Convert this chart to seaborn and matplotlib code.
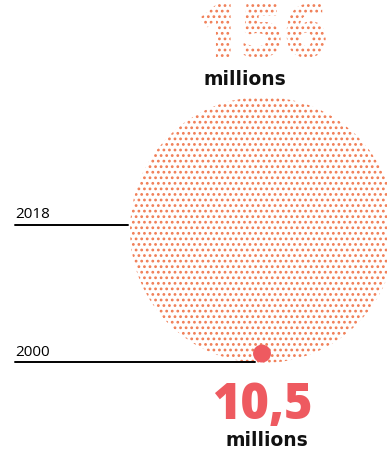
import matplotlib
matplotlib.use("Agg")
import matplotlib.pyplot as plt
import matplotlib.patheffects as pe
from matplotlib.patches import Circle
import seaborn as sns

YEARS = ["2018", "2000"]
VALUES = [156, 10.5]
VALUE_LABELS = ["156", "10,5"]
UNIT = "millions"

DOT_COLOR = "#f07d55"
RED = "#ee5a60"

sns.set_theme(style="white")
plt.rcParams["font.family"] = ["Open Sans", "DejaVu Sans"]
plt.rcParams["hatch.linewidth"] = 1.2

W, H = 387, 451
fig = plt.figure(figsize=(W / 100, H / 100), dpi=100)
ax = fig.add_axes([0, 0, 1, 1])
ax.set_xlim(0, W)
ax.set_ylim(H, 0)
ax.set_axis_off()

# circles: radius proportional to value, bottoms aligned
scale = 133 / max(VALUES)
cx, base = 263, 363
radii = [v * scale for v in VALUES]

big = Circle((cx, base - radii[0]), radii[0], facecolor="none",
             edgecolor=DOT_COLOR, linewidth=0, hatch="...")
ax.add_patch(big)

# leader lines
ax.plot([15, cx - radii[0] - 2], [225, 225], color="black", lw=1.4)
ax.plot([15, cx - 8], [362, 362], color="black", lw=1.4)
ax.text(15, 218, YEARS[0], fontsize=11, color="black")
ax.text(15, 356, YEARS[1], fontsize=11, color="black")

small = Circle((cx - 1, base - radii[1] - 0.5), radii[1], facecolor=RED,
               edgecolor="none", linewidth=0)
ax.add_patch(small)

# top value, dotted
t = ax.text(262, 57, VALUE_LABELS[0], fontsize=54, fontweight=800,
            ha="center", va="baseline")
t.set_path_effects([pe.PathPatchEffect(facecolor="none", edgecolor=DOT_COLOR,
                                       linewidth=0, hatch="...")])
ax.text(245, 85, UNIT, fontsize=13.5, fontweight="bold", color="#111111",
        family="DejaVu Sans", ha="center", va="baseline")

ax.text(262, 419, VALUE_LABELS[1], fontsize=35, fontweight="heavy",
        color=RED, ha="center", va="baseline")
ax.text(267, 446, UNIT, fontsize=13.5, fontweight="bold", color="#111111",
        family="DejaVu Sans", ha="center", va="baseline")

fig.savefig("out.png", dpi=100)
